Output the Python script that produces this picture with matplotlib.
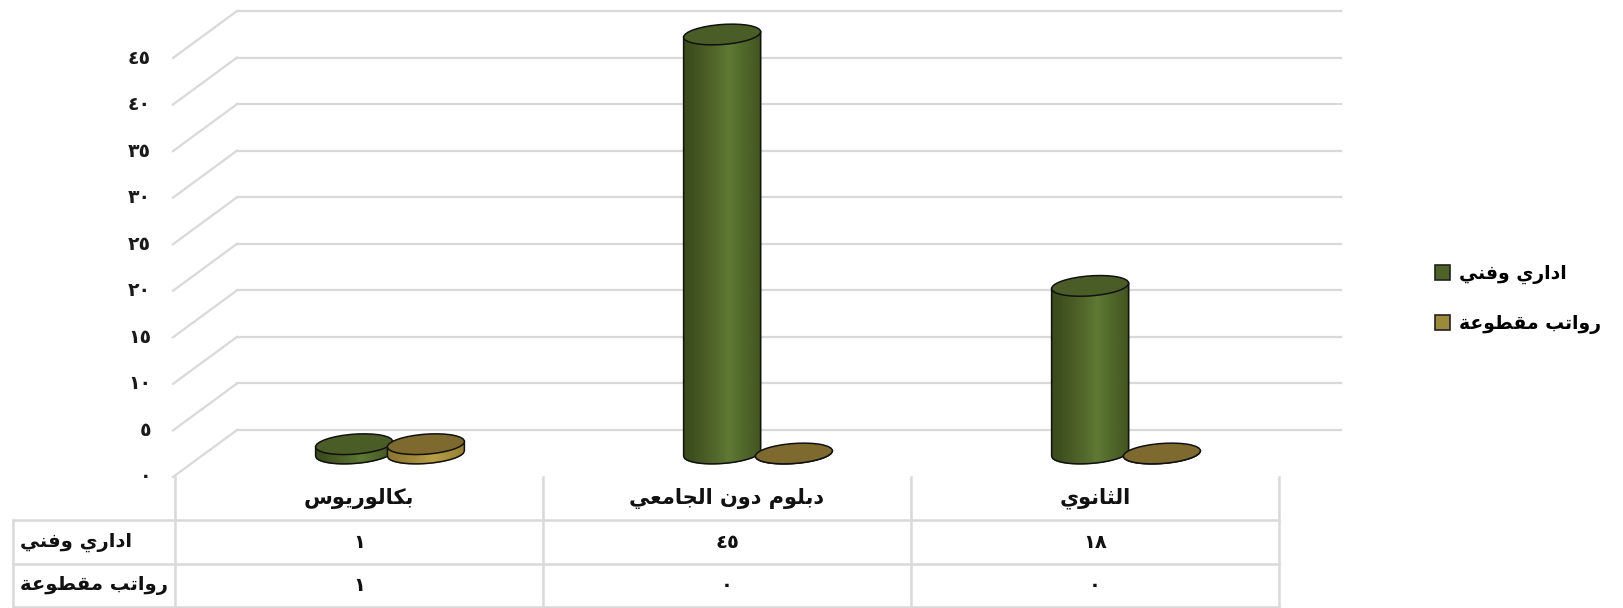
import numpy as np
import matplotlib
matplotlib.use("Agg")
import matplotlib.pyplot as plt
from matplotlib.patches import Polygon, Ellipse, Patch
from matplotlib.lines import Line2D
from matplotlib.transforms import Affine2D, ScaledTranslation, offset_copy

# ---- data ----
categories = ["بكالوريوس", "دبلوم دون الجامعي", "الثانوي"]
series_names = ["اداري وفني", "رواتب مقطوعة"]
admin_tech = [1, 45, 18]
fixed_salary = [1, 0, 0]
y_ticks = [0, 5, 10, 15, 20, 25, 30, 35, 40, 45]

# ---- arabic shaping (matplotlib has no complex text layout) ----
DUAL = {'ب': 0xFE8F, 'ت': 0xFE95, 'ث': 0xFE99, 'ج': 0xFE9D, 'ح': 0xFEA1, 'خ': 0xFEA5,
        'س': 0xFEB1, 'ش': 0xFEB5, 'ص': 0xFEB9, 'ض': 0xFEBD, 'ط': 0xFEC1, 'ظ': 0xFEC5,
        'ع': 0xFEC9, 'غ': 0xFECD, 'ف': 0xFED1, 'ق': 0xFED5, 'ك': 0xFED9, 'ل': 0xFEDD,
        'م': 0xFEE1, 'ن': 0xFEE5, 'ه': 0xFEE9, 'ي': 0xFEF1}
RIGHT = {'ا': 0xFE8D, 'د': 0xFEA9, 'ذ': 0xFEAB, 'ر': 0xFEAD, 'ز': 0xFEAF, 'و': 0xFEED,
         'ة': 0xFE93, 'ى': 0xFEEF}


def ar(text):
    out = []
    for i, ch in enumerate(text):
        base = DUAL.get(ch, RIGHT.get(ch))
        if base is None:
            out.append(ch)
            continue
        prev = text[i - 1] if i > 0 else ''
        nxt = text[i + 1] if i + 1 < len(text) else ''
        jp = prev in DUAL
        jn = ch in DUAL and (nxt in DUAL or nxt in RIGHT)
        if jp and jn:
            code = base + 3
        elif jp:
            code = base + 1
        elif jn:
            code = base + 2
        else:
            code = base
        out.append(chr(code))
    return ''.join(reversed(out))


def ar_num(n):
    return str(n).translate(str.maketrans("0123456789", "٠١٢٣٤٥٦٧٨٩"))


plt.rcParams['font.family'] = ['DejaVu Sans']
plt.rcParams['font.weight'] = 'bold'

W, H = 1623, 608
fig = plt.figure(figsize=(W / 100, H / 100), dpi=100)
fig.patch.set_facecolor('white')

# front plane of the 3D chart
ax = fig.add_axes([175 / W, (H - 477) / H, 1104 / W, (477 - 58) / H])
ax.set_xlim(0, 3)
ax.set_ylim(0, 45)
ax.axis('off')

BACK = (62, 47)      # depth offset of back wall, pixels
MID = (31, 23.5)     # bars sit half way in depth
GRID = '#D9D9D9'

# back wall grid + side-wall diagonals
back = offset_copy(ax.transData, fig, x=BACK[0], y=BACK[1], units='dots')
for v in y_ticks:
    ax.plot([0, 3], [v, v], color=GRID, lw=1.6, transform=back, clip_on=False, zorder=1)
    diag = Affine2D() + ScaledTranslation(0, v, ax.transData)
    ax.add_line(Line2D([-2, BACK[0]], [0, BACK[1]], color=GRID, lw=1.6,
                       transform=diag, clip_on=False, zorder=1))
    lab = offset_copy(ax.transData, fig, x=-24, y=0, units='dots')
    ax.text(0, v, ar_num(v), transform=lab, ha='right', va='center',
            fontsize=13.5, color='#1a1a1a', fontweight='bold')


def mix(c1, c2, t):
    c1 = np.array(matplotlib.colors.to_rgb(c1))
    c2 = np.array(matplotlib.colors.to_rgb(c2))
    return tuple(c1 + (c2 - c1) * t)


def cylinder(xc, value, edge_col, peak_col, top_col, width=77, b=10, z=3):
    y0 = ax.transData.transform((xc, 0))[1]
    y1 = ax.transData.transform((xc, value))[1]
    h = y1 - y0
    a = width / 2
    tr = (Affine2D().skew_deg(0, 4).translate(*MID)
          + ScaledTranslation(xc, 0, ax.transData))
    xs = np.linspace(-a, a, 41)
    bot = lambda x: -b * np.sqrt(np.clip(1 - (x / a) ** 2, 0, 1))
    for k in range(len(xs) - 1):
        xl, xr = xs[k], xs[k + 1]
        t = ((xl + xr) / 2) / a
        s = max(0.0, 1 - abs(t - 0.2) / 1.2) ** 1.3
        col = mix(edge_col, peak_col, s)
        poly = Polygon([(xl, bot(xl)), (xr, bot(xr)), (xr, h), (xl, h)],
                       closed=True, facecolor=col, edgecolor=col, lw=0.8,
                       transform=tr, zorder=z, clip_on=False)
        ax.add_patch(poly)
    xx = np.linspace(-a, a, 80)
    outline = [(-a, h)] + [(x, bot(x)) for x in xx] + [(a, h)]
    ax.add_line(Line2D([p[0] for p in outline], [p[1] for p in outline],
                       color='#111111', lw=1.1, transform=tr, zorder=z, clip_on=False))
    ax.add_patch(Ellipse((0, h), width, 2 * b, facecolor=top_col, edgecolor='#111111',
                         lw=1.1, transform=tr, zorder=z, clip_on=False))


GREEN = dict(edge_col='#3A4A1B', peak_col='#5F7934', top_col='#4B5D27')
GOLD = dict(edge_col='#8C7530', peak_col='#B9A046', top_col='#7E6A2F')
offsets = [-0.0975, 0.0975]
for i in range(len(categories)):
    cylinder(i + 0.5 + offsets[0], admin_tech[i], z=3 + 2 * i, **GREEN)
    cylinder(i + 0.5 + offsets[1], fixed_salary[i], z=4 + 2 * i, **GOLD)

# legend
handles = [Patch(facecolor='#4F6228', edgecolor='#222222', lw=1.2),
           Patch(facecolor='#9C8A3C', edgecolor='#222222', lw=1.2)]
fig.legend(handles, [ar(s) for s in series_names], loc='center left',
           bbox_to_anchor=(1418 / W, (H - 299) / H), frameon=False,
           prop={'size': 13.5, 'weight': 'bold'}, handlelength=0.8, handleheight=0.8,
           handletextpad=0.5, labelspacing=1.6)

# data table below the chart (overlay in pixel coordinates)
tab = fig.add_axes([0, 0, 1, 1], zorder=-1)
tab.set_xlim(0, W)
tab.set_ylim(H, 0)
tab.axis('off')
edges = [ax.transData.transform((i, 0))[0] for i in range(len(categories) + 1)]
row_y = [477, 520, 564, 607]
left = 13
TL = dict(color=GRID, lw=1.8)
for x in edges:
    tab.plot([x, x], [row_y[0], row_y[-1]], **TL)
tab.plot([left, left], [row_y[1], row_y[-1]], **TL)
for y in row_y[1:]:
    tab.plot([left, edges[-1]], [y, y], **TL)

for i, cat in enumerate(categories):
    cx = (edges[i] + edges[i + 1]) / 2
    tab.text(cx, (row_y[0] + row_y[1]) / 2, ar(cat), ha='center', va='center',
             fontsize=15, fontweight='bold', color='#111111')
    tab.text(cx, (row_y[1] + row_y[2]) / 2, ar_num(admin_tech[i]), ha='center',
             va='center', fontsize=14, fontweight='bold', color='#111111')
    tab.text(cx, (row_y[2] + row_y[3]) / 2, ar_num(fixed_salary[i]), ha='center',
             va='center', fontsize=14, fontweight='bold', color='#111111')
for r, name in enumerate(series_names):
    tab.text(left + 7, (row_y[r + 1] + row_y[r + 2]) / 2, ar(name), ha='left',
             va='center', fontsize=14, fontweight='bold', color='#111111')

fig.savefig("out.png", dpi=100)
plt.close(fig)
